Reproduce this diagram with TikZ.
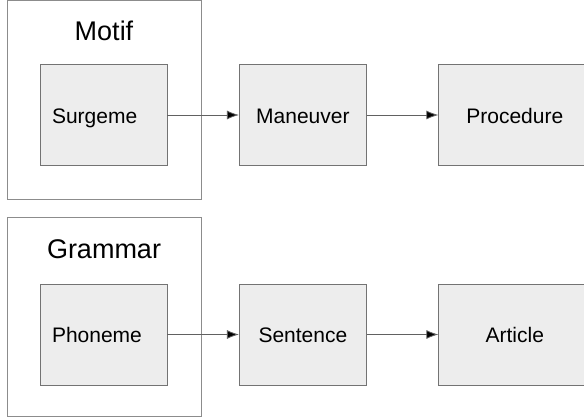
\documentclass[tikz,border=0pt]{standalone}
\usepackage{fontspec}
\setmainfont{Liberation Sans}
\usetikzlibrary{arrows.meta, positioning}

\begin{document}
\begin{tikzpicture}[x=1pt, y=-1pt, node distance={71.5pt},
    group/.style = {draw=black!45, line width=0.9pt, minimum width=194pt, minimum height=198.5pt},
    title/.style = {inner sep=0pt, font=\fontsize{27}{30}\selectfont},
    main/.style = {draw=black!55, fill=black!7, line width=0.9pt, minimum width=127pt, minimum height=101pt,
                   text height=17pt, text depth=0pt, font=\fontsize{21}{24}\selectfont},
    left/.style = {main, text width=103pt, inner xsep=12pt, align=left},
    wide/.style = {main, minimum width=152pt},
    link/.style = {draw=black!62, line width=0.8pt, -{Latex[length=12pt, width=9pt]}}]
    \useasboundingbox (0,0) rectangle (584,419);

    % top row
    \node[group] (motifbox) at (104,99.75) {};
    \node[title] (motif) at (104,30.7) {Motif};
    \node[left] (surgeme) at (103.5,115) {Surgeme};
    \node[main] (maneuver) [right=of surgeme] {Maneuver};
    \node[wide] (procedure) [right=of maneuver] {Procedure};

    \path[link] (surgeme) edge (maneuver);
    \path[link] (maneuver) edge (procedure);

    % bottom row
    \node[group, minimum height=199pt] (grammarbox) at (104,316.5) {};
    \node[title] (grammar) at (104,249) {Grammar};
    \node[left] (phoneme) at (103.5,334.5) {Phoneme};
    \node[main] (sentence) [right=of phoneme] {Sentence};
    \node[wide] (article) [right=of sentence] {Article};

    \path[link] (phoneme) edge (sentence);
    \path[link] (sentence) edge (article);
\end{tikzpicture}
\end{document}
